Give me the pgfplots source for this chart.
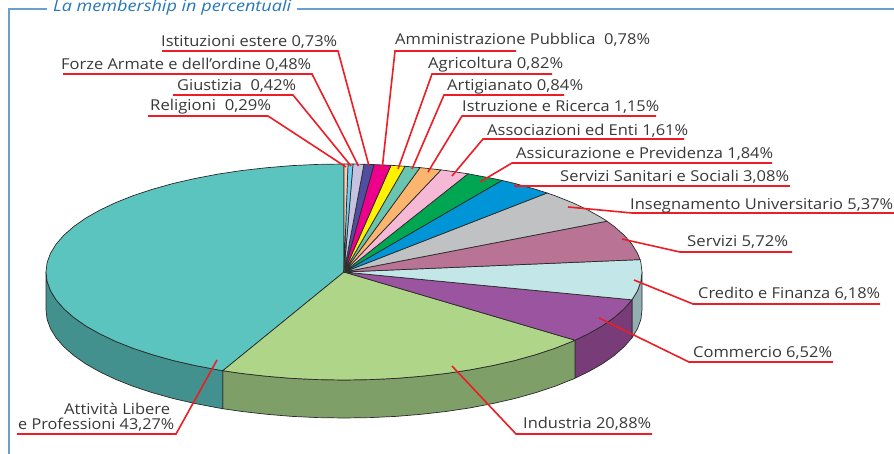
\documentclass[border=0pt]{standalone}
\usepackage{graphicx}
\usepackage{fontspec}
\setmainfont{Open Sans}
\usepackage{pgfplots}
\pgfplotsset{compat=1.18}
\definecolor{txt}{HTML}{38383A}
\definecolor{edge}{HTML}{2A2A2A}
\definecolor{lead}{HTML}{EE1C25}
\definecolor{frame}{HTML}{6C9FCE}
\definecolor{ttl}{HTML}{2478B8}
\newcommand\lab[4]{\node[anchor=base west,inner sep=0pt,text=txt,font=\fontsize{15}{17}\selectfont,yshift=-0.5pt] at (axis cs:#1,#2) {\resizebox{#3pt}{\height}{#4}};}
\newcommand\leader[1]{\addplot[draw=lead,line width=1.6pt,line join=miter] coordinates {#1};}
\begin{document}
\begin{tikzpicture}[x=1pt,y=1pt]
\path[use as bounding box] (0,0) rectangle (894,454);
\begin{axis}[at={(0,0)},anchor=south west,width=894pt,height=454pt,scale only axis,
 xmin=0,xmax=894,ymin=0,ymax=454,y dir=reverse,hide axis]
% frame
\addplot[draw=frame,line width=1.2pt] coordinates {(47,9)(9,9)(9,454)};
\addplot[draw=frame,line width=1.2pt] coordinates {(297,9)(894,9)};
% walls
\addplot[fill={rgb,255:red,148;green,175;blue,178},draw=edge,line width=0.7pt] coordinates {(642,272)(640.9,281.4)(637.5,290.7)(632,299.8)(632,337.8)(637.5,328.7)(640.9,319.4)(642,310)(642,272)};
\addplot[fill={rgb,255:red,120;green,61;blue,120},draw=edge,line width=0.7pt] coordinates {(632,299.8)(624,308.9)(614.1,317.6)(602.1,326)(588.1,333.9)(575,340.2)(575,378.2)(588.1,371.9)(602.1,364)(614.1,355.6)(624,346.9)(632,337.8)(632,299.8)};
\addplot[fill={rgb,255:red,127;green,159;blue,105},draw=edge,line width=0.7pt] coordinates {(575,340.2)(572.3,341.4)(554.7,348.4)(535.6,354.7)(514.9,360.5)(493,365.5)(469.9,369.9)(445.9,373.5)(421.1,376.3)(395.7,378.4)(370,379.6)(344,380)(318,379.6)(292.3,378.4)(266.9,376.3)(242.1,373.5)(222.8,370.7)(222.8,408.7)(242.1,411.5)(266.9,414.3)(292.3,416.4)(318,417.6)(344,418)(370,417.6)(395.7,416.4)(421.1,414.3)(445.9,411.5)(469.9,407.9)(493,403.5)(514.9,398.5)(535.6,392.7)(554.7,386.4)(572.3,379.4)(575,378.2)(575,340.2)};
\addplot[fill={rgb,255:red,66;green,145;blue,142},draw=edge,line width=0.7pt] coordinates {(222.8,370.7)(218.1,369.9)(195,365.5)(173.1,360.5)(152.4,354.7)(133.3,348.4)(115.7,341.4)(99.9,333.9)(85.9,326)(73.9,317.6)(64,308.9)(56.2,300)(50.5,290.7)(47.1,281.4)(46,272)(46,310)(47.1,319.4)(50.5,328.7)(56.2,338)(64,346.9)(73.9,355.6)(85.9,364)(99.9,371.9)(115.7,379.4)(133.3,386.4)(152.4,392.7)(173.1,398.5)(195,403.5)(218.1,407.9)(222.8,408.7)(222.8,370.7)};
% top slices
\addplot[fill={rgb,255:red,91;green,196;blue,190},draw=edge,line width=0.7pt] coordinates {(344,272)(222.8,370.7)(218.1,369.9)(195,365.5)(173.1,360.5)(152.4,354.7)(133.3,348.4)(115.7,341.4)(99.9,333.9)(85.9,326)(73.9,317.6)(64,308.9)(56.2,300)(50.5,290.7)(47.1,281.4)(46,272)(47.1,262.6)(50.5,253.3)(56.2,244)(64,235.1)(73.9,226.4)(85.9,218)(99.9,210.1)(115.7,202.6)(133.3,195.6)(152.4,189.3)(173.1,183.5)(195,178.5)(218.1,174.1)(242.1,170.5)(266.9,167.7)(292.3,165.6)(318,164.4)(344,164)(344,272)};
\addplot[fill={rgb,255:red,174;green,213;blue,136},draw=edge,line width=0.7pt] coordinates {(344,272)(575,340.2)(572.3,341.4)(554.7,348.4)(535.6,354.7)(514.9,360.5)(493,365.5)(469.9,369.9)(445.9,373.5)(421.1,376.3)(395.7,378.4)(370,379.6)(344,380)(318,379.6)(292.3,378.4)(266.9,376.3)(242.1,373.5)(222.8,370.7)(344,272)};
\addplot[fill={rgb,255:red,155;green,84;blue,159},draw=edge,line width=0.7pt] coordinates {(344,272)(632,299.8)(624,308.9)(614.1,317.6)(602.1,326)(588.1,333.9)(575,340.2)(344,272)};
\addplot[fill={rgb,255:red,195;green,231;blue,232},draw=edge,line width=0.7pt] coordinates {(344,272)(640,259.6)(640.9,262.6)(642,272)(640.9,281.4)(637.5,290.7)(632,299.8)(344,272)};
\addplot[fill={rgb,255:red,184;green,115;blue,149},draw=edge,line width=0.7pt] coordinates {(344,272)(607,221.2)(614.1,226.4)(624,235.1)(631.8,244)(637.5,253.3)(640,259.6)(344,272)};
\addplot[fill={rgb,255:red,191;green,193;blue,195},draw=edge,line width=0.7pt] coordinates {(344,272)(547,193)(554.7,195.6)(572.3,202.6)(588.1,210.1)(602.1,218)(607,221.2)(344,272)};
\addplot[fill={rgb,255:red,0;green,149;blue,214},draw=edge,line width=0.7pt] coordinates {(344,272)(502,180.4)(514.9,183.5)(535.6,189.3)(547,193)(344,272)};
\addplot[fill={rgb,255:red,0;green,166;blue,81},draw=edge,line width=0.7pt] coordinates {(344,272)(468,173.8)(493,178.5)(502,180.4)(344,272)};
\addplot[fill={rgb,255:red,246;green,185;blue,213},draw=edge,line width=0.7pt] coordinates {(344,272)(441,169.9)(445.9,170.5)(468,173.8)(344,272)};
\addplot[fill={rgb,255:red,251;green,181;blue,111},draw=edge,line width=0.7pt] coordinates {(344,272)(420,167.6)(441,169.9)(344,272)};
\addplot[fill={rgb,255:red,105;green,196;blue,176},draw=edge,line width=0.7pt] coordinates {(344,272)(405,166.3)(420,167.6)(344,272)};
\addplot[fill={rgb,255:red,255;green,242;blue,0},draw=edge,line width=0.7pt] coordinates {(344,272)(391,165.3)(405,166.3)(344,272)};
\addplot[fill={rgb,255:red,236;green,0;blue,140},draw=edge,line width=0.7pt] coordinates {(344,272)(374,164.6)(391,165.3)(344,272)};
\addplot[fill={rgb,255:red,81;green,77;blue,160},draw=edge,line width=0.7pt] coordinates {(344,272)(364,164.2)(374,164.6)(344,272)};
\addplot[fill={rgb,255:red,197;green,195;blue,224},draw=edge,line width=0.7pt] coordinates {(344,272)(353,164.05)(364,164.2)(344,272)};
\addplot[fill={rgb,255:red,109;green,207;blue,246},draw=edge,line width=0.7pt] coordinates {(344,272)(348,164)(353,164.05)(344,272)};
\addplot[fill={rgb,255:red,249;green,205;blue,176},draw=edge,line width=0.7pt] coordinates {(344,272)(344,164)(348,164)(344,272)};
% leaders
\leader{(162,51)(338,51)(369,166)}
\leader{(63,74)(312,74)(358.5,166)}
\leader{(173,95)(293,95)(351,166)}
\leader{(148,116)(268,116)(346,167)}
\leader{(516,51)(395,51)(382,170)}
\leader{(552,74)(432,74)(398,169)}
\leader{(564,95)(444,95)(412,169)}
\leader{(656,116)(462,116)(428,172)}
\leader{(684,139)(483,139)(452,176)}
\leader{(772,163)(512,163)(480,182)}
\leader{(514,186)(790,186)}
\leader{(568,207)(632,213)(894,213)}
\leader{(622,239)(680,252)(792,252)}
\leader{(634,280)(693,304)(880,304)}
\leader{(599,318)(689,362)(833,362)}
\leader{(452,366)(516,434)(652,434)}
\leader{(217,360)(176,434)(17,434)}
% labels
\lab{161}{46}{176}{Istituzioni estere 0,73\%}
\lab{61}{69}{250}{Forze Armate e dell’ordine 0,48\%}
\lab{177}{90}{119}{Giustizia\ \ 0,42\%}
\lab{150}{110}{121}{Religioni\ \ 0,29\%}
\lab{395}{44.5}{255}{Amministrazione Pubblica\ \ 0,78\%}
\lab{428}{68}{135}{Agricoltura 0,82\%}
\lab{447}{90.5}{136}{Artigianato 0,84\%}
\lab{462}{111}{197}{Istruzione e Ricerca 1,15\%}
\lab{487}{135}{201}{Associazioni ed Enti 1,61\%}
\lab{516}{158}{257}{Assicurazione e Previdenza 1,84\%}
\lab{560}{181}{229}{Servizi Sanitari e Sociali 3,08\%}
\lab{630}{209}{263}{Insegnamento Universitario 5,37\%}
\lab{687}{246}{101}{Servizi 5,72\%}
\lab{698}{298}{182}{Credito e Finanza 6,18\%}
\lab{693}{357}{139}{Commercio 6,52\%}
\lab{523}{428}{128}{Industria 20,88\%}
\lab{64}{414}{106}{Attività Libere}
\lab{18}{429}{156}{e Professioni 43,27\%}
\node[anchor=base west,inner sep=0pt,text=ttl,font=\fontsize{15.5}{18}\selectfont\itshape] at (axis cs:53,11.8) {\resizebox{238pt}{\height}{La membership in percentuali}};
\end{axis}
\end{tikzpicture}
\end{document}
